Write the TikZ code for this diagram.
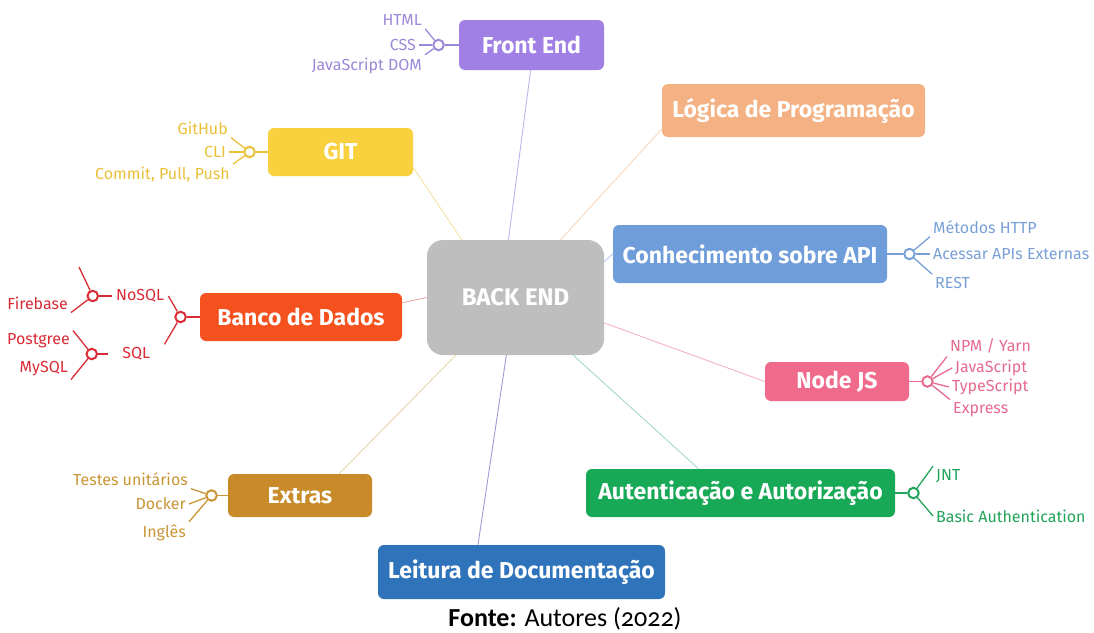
\documentclass[tikz,border=0pt]{standalone}
\usepackage{fontspec}
\setmainfont{Fira Sans}
\newfontfamily\captionfont[Numbers=OldStyle]{Carlito}
\usetikzlibrary{positioning}

\definecolor{frontcol}{HTML}{A080E4}
\definecolor{frontleaf}{HTML}{9C88D8}
\definecolor{frontlink}{HTML}{C2B4EA}
\definecolor{logicacol}{HTML}{F4B183}
\definecolor{logicalink}{HTML}{F6D7BC}
\definecolor{gitcol}{HTML}{F9D13F}
\definecolor{gitleaf}{HTML}{E9C038}
\definecolor{gitlink}{HTML}{F2E2A2}
\definecolor{apicol}{HTML}{6F9DDA}
\definecolor{apileaf}{HTML}{78A0D6}
\definecolor{apilink}{HTML}{B9CCEA}
\definecolor{backcol}{HTML}{BEBEBE}
\definecolor{bancocol}{HTML}{F4511E}
\definecolor{bancoleaf}{HTML}{D92B35}
\definecolor{bancolink}{HTML}{F0AAA6}
\definecolor{nodecol}{HTML}{F06B8B}
\definecolor{nodeleaf}{HTML}{E66A8E}
\definecolor{nodelink}{HTML}{F2B3C3}
\definecolor{authcol}{HTML}{17A956}
\definecolor{authleaf}{HTML}{22A35A}
\definecolor{authlink}{HTML}{A6D8C6}
\definecolor{extrascol}{HTML}{C98A2A}
\definecolor{extrasleaf}{HTML}{C99536}
\definecolor{extraslink}{HTML}{E6D5A8}
\definecolor{leituracol}{HTML}{2F73BB}
\definecolor{leituralink}{HTML}{A397D3}

\begin{document}
\begin{tikzpicture}[x=1pt, y=-1pt,
	topic/.style={fill=#1, text=white, rounded corners=6pt, inner sep=0pt,
		font=\fontsize{23}{27}\selectfont\bfseries},
	junction/.style={circle, draw=#1, line width=2pt, fill=white, inner sep=0pt, minimum size=10.5pt},
	leaf/.style={text=#1, inner sep=3pt, font=\fontsize{16}{18}\selectfont},
	twig/.style={draw=#1, line width=1.3pt},
	link/.style={draw=#1, line width=0.9pt}]
	\useasboundingbox (0,0) rectangle (1094,632);
	
	\node[topic=backcol, rounded corners=16pt, minimum width=177pt, minimum height=115pt, font=\fontsize{24}{28}\selectfont\bfseries] (back) at (515.5,297.5) {BACK END};
	\node[topic=frontcol, minimum width=145pt, minimum height=50pt] (front) at (531.5,45) {Front End};
	\node[topic=logicacol, minimum width=263pt, minimum height=53pt] (logica) at (793.5,110.5) {Lógica de Programação};
	\node[topic=gitcol, minimum width=145pt, minimum height=48pt] (git) at (340.5,152) {GIT};
	\node[topic=apicol, minimum width=274pt, minimum height=58pt] (api) at (750,254) {Conhecimento sobre API};
	\node[topic=bancocol, minimum width=202pt, minimum height=48pt] (banco) at (301,317) {Banco de Dados};
	\node[topic=nodecol, minimum width=144pt, minimum height=39pt] (nodejs) at (837,381.5) {Node JS};
	\node[topic=authcol, minimum width=309pt, minimum height=48pt] (auth) at (740.5,493) {Autenticação e Autorização};
	\node[topic=extrascol, minimum width=144pt, minimum height=43pt] (extras) at (300,495.5) {Extras};
	\node[topic=leituracol, minimum width=287pt, minimum height=54pt] (leitura) at (521.5,572) {Leitura de Documentação};
	
	\draw[link=frontlink] (back.97) -- (front.268);
	\draw[link=logicalink] (back.52) -- (logica.188);
	\draw[link=gitlink] (back.133) -- (git.348);
	\draw[link=apilink] (back.22) -- (api.west);
	\draw[link=bancolink] (back.180) -- (banco.8);
	\draw[link=nodelink] (back.344) -- (nodejs.west);
	\draw[link=authlink] (back.315) -- (auth.150);
	\draw[link=extraslink] (back.224) -- (extras.29);
	\draw[link=leituralink] (back.261) -- (leitura.148);
	
	\node[junction=frontleaf, left=14pt of front] (fej) {};
	\node[leaf=frontleaf, anchor=east] (html) at (425,20) {HTML};
	\node[leaf=frontleaf, anchor=east] (css) at (419,45) {CSS};
	\node[leaf=frontleaf, anchor=east] (jsdom) at (425,66) {JavaScript DOM};
	\draw[twig=frontleaf] (fej) -- (front);
	\draw[twig=frontleaf] (fej) -- (html.south east);
	\draw[twig=frontleaf] (fej) -- (css.east);
	\draw[twig=frontleaf] (fej) -- (jsdom.north east);
	
	\node[junction=gitleaf, left=12pt of git] (gitj) {};
	\node[leaf=gitleaf, anchor=east] (github) at (231,128) {GitHub};
	\node[leaf=gitleaf, anchor=east] (cli) at (229,152) {CLI};
	\node[leaf=gitleaf, anchor=east] (commit) at (233,175) {Commit, Pull, Push};
	\draw[twig=gitleaf] (gitj) -- (git);
	\draw[twig=gitleaf] (gitj) -- (github.south east);
	\draw[twig=gitleaf] (gitj) -- (cli.east);
	\draw[twig=gitleaf] (gitj) -- (commit.north east);
	
	\node[junction=bancoleaf, left=13pt of banco] (bancoj) {};
	\node[leaf=bancoleaf, anchor=west, minimum width=56pt] (nosql) at (112,296) {NoSQL};
	\node[leaf=bancoleaf, anchor=west, minimum width=56pt] (sql) at (108,354) {SQL};
	\node[junction=bancoleaf, left=13pt of nosql] (nosqlj) {};
	\node[junction=bancoleaf, left=10pt of sql] (sqlj) {};
	\coordinate (nosqlx) at (79,267);
	\node[leaf=bancoleaf, anchor=east] (firebase) at (71,303) {Firebase};
	\node[leaf=bancoleaf, anchor=east] (postgree) at (73,341) {Postgree};
	\node[leaf=bancoleaf, anchor=east] (mysql) at (71,369) {MySQL};
	\draw[twig=bancoleaf] (bancoj) -- (banco);
	\draw[twig=bancoleaf] (bancoj) -- (nosql.east);
	\draw[twig=bancoleaf] (bancoj) -- (sql.north east);
	\draw[twig=bancoleaf] (nosqlj) -- (nosql);
	\draw[twig=bancoleaf] (nosqlj) -- (nosqlx);
	\draw[twig=bancoleaf] (nosqlj) -- (firebase.south east);
	\draw[twig=bancoleaf] (sqlj) -- (sql);
	\draw[twig=bancoleaf] (sqlj) -- (postgree.north east);
	\draw[twig=bancoleaf] (sqlj) -- (mysql.south east);
	
	\node[junction=apileaf, right=16pt of api] (apij) {};
	\node[leaf=apileaf, anchor=west] (metodos) at (930,227) {Métodos HTTP};
	\node[leaf=apileaf, anchor=west] (acessar) at (930,254) {Acessar APIs Externas};
	\node[leaf=apileaf, anchor=west] (rest) at (932,283) {REST};
	\draw[twig=apileaf] (apij) -- (api);
	\draw[twig=apileaf] (apij) -- (metodos.south west);
	\draw[twig=apileaf] (apij) -- (acessar.west);
	\draw[twig=apileaf] (apij) -- (rest.north west);
	
	\node[junction=nodeleaf, right=12pt of nodejs] (nodej) {};
	\node[leaf=nodeleaf, anchor=west] (npm) at (947,346) {NPM / Yarn};
	\node[leaf=nodeleaf, anchor=west] (js) at (952,368) {JavaScript};
	\node[leaf=nodeleaf, anchor=west] (ts) at (949,387) {TypeScript};
	\node[leaf=nodeleaf, anchor=west] (express) at (950,410) {Express};
	\draw[twig=nodeleaf] (nodej) -- (nodejs);
	\draw[twig=nodeleaf] (nodej) -- (npm.south west);
	\draw[twig=nodeleaf] (nodej) -- (js.west);
	\draw[twig=nodeleaf] (nodej) -- (ts.west);
	\draw[twig=nodeleaf] (nodej) -- (express.north west);
	
	\node[junction=authleaf, right=12pt of auth] (authj) {};
	\node[leaf=authleaf, anchor=west] (jnt) at (933,476) {JNT};
	\node[leaf=authleaf, anchor=west] (basic) at (933,516) {Basic Authentication};
	\draw[twig=authleaf] (authj) -- (auth);
	\draw[twig=authleaf] (authj) -- (jnt.north west);
	\draw[twig=authleaf] (authj) -- (basic.west);
	
	\node[junction=extrasleaf, left=10pt of extras] (extrasj) {};
	\node[leaf=extrasleaf, anchor=east] (testes) at (191,479) {Testes unitários};
	\node[leaf=extrasleaf, anchor=east] (docker) at (189,504) {Docker};
	\node[leaf=extrasleaf, anchor=east] (ingles) at (189,533) {Inglês};
	\draw[twig=extrasleaf] (extrasj) -- (extras);
	\draw[twig=extrasleaf] (extrasj) -- (testes.south east);
	\draw[twig=extrasleaf] (extrasj) -- (docker.east);
	\draw[twig=extrasleaf] (extrasj) -- (ingles.north east);
	
	\node[font=\captionfont\fontsize{26}{30}\selectfont] (fonte) at (565,619) {\textbf{Fonte:} Autores (2022)};
\end{tikzpicture}
\end{document}
